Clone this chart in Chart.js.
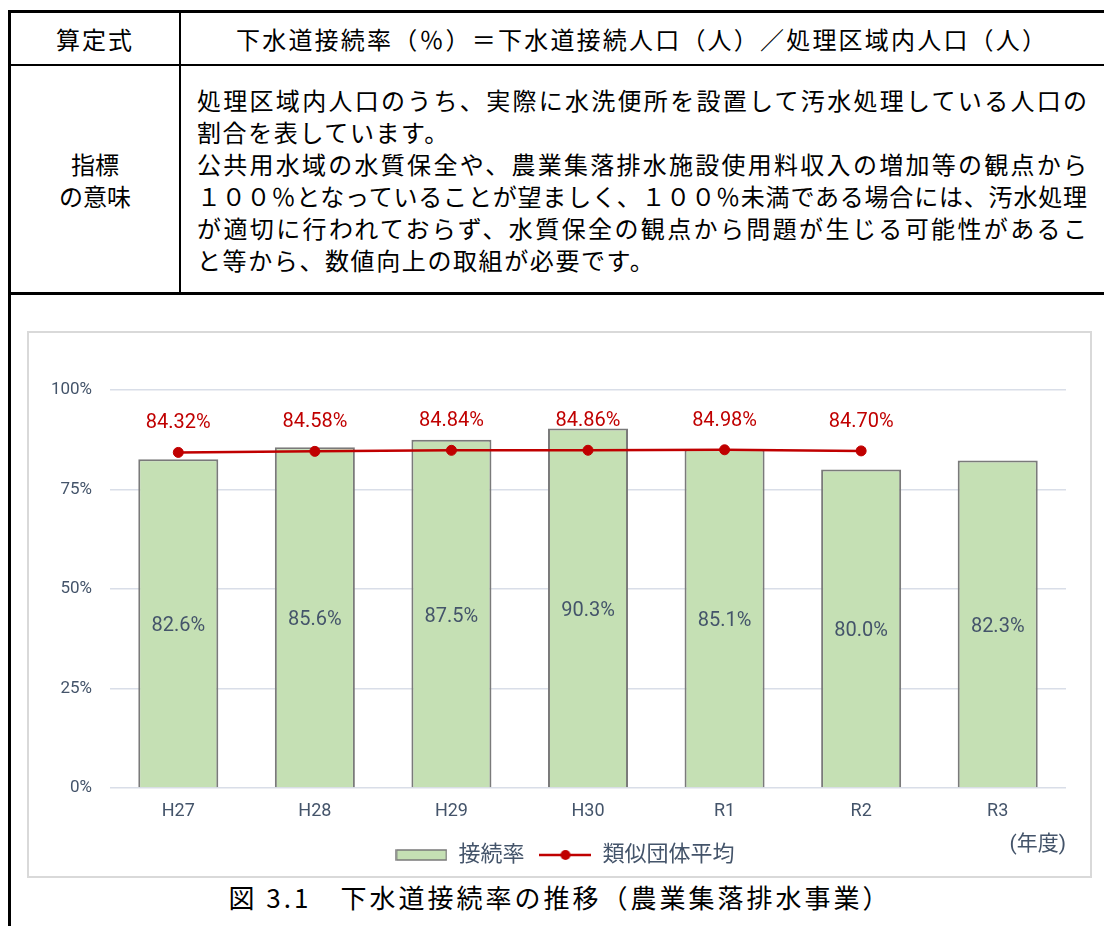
<!DOCTYPE html>
<html lang="ja">
<head>
<meta charset="utf-8">
<title>下水道接続率の推移（農業集落排水事業）</title>
<script src="https://cdn.jsdelivr.net/npm/chart.js@4/dist/chart.umd.min.js"></script>
<style>
  html, body { margin: 0; padding: 0; background: #fff; }
  body { width: 1104px; height: 926px; position: relative; overflow: hidden;
         font-family: "Noto Sans CJK JP", sans-serif; color: #000; }
  .hline { position: absolute; background: #000; }
  .vline { position: absolute; background: #000; }
  .cell { position: absolute; font-size: 24px; line-height: 32px; white-space: nowrap; }
  .mean div { height: 32px; }
  .mean .full { text-align: justify; text-align-last: justify; }
  #chart-box { position: absolute; left: 27px; top: 331px; width: 1065px; height: 547px;
               border: 2px solid #d9d9d9; box-sizing: border-box; }
  #chart-wrap { position: absolute; left: 29px; top: 333px; width: 1061px; height: 543px; }
  #caption { position: absolute; left: 10px; width: 1100px; top: 879px; text-align: center;
             font-size: 26px; line-height: 36px; letter-spacing: 3px; }
</style>
</head>
<body>
<!-- 表の罫線 -->
<div class="hline" style="left:8px; top:10px; width:1100px; height:3px;"></div>
<div class="vline" style="left:8px; top:10px; width:3px; height:920px;"></div>
<div class="hline" style="left:8px; top:64px; width:1100px; height:2px;"></div>
<div class="hline" style="left:8px; top:292px; width:1100px; height:3px;"></div>
<div class="vline" style="left:179px; top:10px; width:2px; height:284px;"></div>

<!-- 算定式 -->
<div class="cell" style="left:11px; width:168px; top:23px; text-align:center; letter-spacing:2px;">算定式</div>
<div class="cell" style="left:236px; top:23px; letter-spacing:2.2px;">下水道接続率（％）＝下水道接続人口（人）／処理区域内人口（人）</div>

<!-- 指標の意味 -->
<div class="cell" style="left:11px; width:168px; top:148px; text-align:center;">指標<br>の意味</div>
<div class="cell mean" style="left:197px; width:890px; top:84px;">
  <div class="full">処理区域内人口のうち、実際に水洗便所を設置して汚水処理している人口の</div>
  <div style="letter-spacing:1.6px;">割合を表しています。</div>
  <div class="full">公共用水域の水質保全や、農業集落排水施設使用料収入の増加等の観点から</div>
  <div class="full">１００％となっていることが望ましく、１００％未満である場合には、汚水処理</div>
  <div class="full">が適切に行われておらず、水質保全の観点から問題が生じる可能性があるこ</div>
  <div style="letter-spacing:1.6px;">と等から、数値向上の取組が必要です。</div>
</div>

<div id="chart-box"></div>
<div id="chart-wrap"><canvas id="chart"></canvas></div>
<div id="caption">図 3.1　下水道接続率の推移（農業集落排水事業）</div>

<script>
"use strict";

// ── データ ─────────────────────────────────────────
const years = ["H27", "H28", "H29", "H30", "R1", "R2", "R3"];
const connectRate = [82.6, 85.6, 87.5, 90.3, 85.1, 80.0, 82.3];   // 接続率
const similarAvg = [84.32, 84.58, 84.84, 84.86, 84.98, 84.70, null]; // 類似団体平均
const yTicks = [0, 25, 50, 75, 100];

const BAR_FILL = "#c5e0b4";
const BAR_EDGE = "#7a7a7a";
const LINE_RED = "#c00000";
const SLATE = "#44546a";
const LATIN = "Roboto, 'Noto Sans CJK JP', sans-serif";

// 凡例用の小さな図形（棒と折れ線＋マーカー）
function legendSwatch(kind) {
  const c = document.createElement("canvas");
  c.width = 52; c.height = 14;
  const g = c.getContext("2d");
  if (kind === "bar") {
    g.fillStyle = BAR_FILL;
    g.fillRect(1, 2, 50, 10);
    g.strokeStyle = BAR_EDGE;
    g.lineWidth = 1.5;
    g.strokeRect(1, 2, 50, 10);
  } else {
    g.strokeStyle = LINE_RED;
    g.lineWidth = 2.5;
    g.beginPath(); g.moveTo(0, 7); g.lineTo(52, 7); g.stroke();
    g.fillStyle = LINE_RED;
    g.beginPath(); g.arc(26, 7, 5, 0, Math.PI * 2); g.fill();
  }
  return c;
}

// 値ラベル（棒は中央、折れ線は点の上）
const valueLabels = {
  id: "valueLabels",
  afterDatasetsDraw(chart) {
    const ctx = chart.ctx;
    ctx.save();
    ctx.textAlign = "center";
    ctx.textBaseline = "middle";
    ctx.font = "20px " + LATIN;
    chart.data.datasets.forEach((ds, di) => {
      const meta = chart.getDatasetMeta(di);
      meta.data.forEach((el, i) => {
        const v = ds.data[i];
        if (v == null) return;
        if (ds.type === "bar") {
          ctx.fillStyle = SLATE;
          ctx.fillText(v.toFixed(1) + "%", el.x, (el.y + el.base) / 2 + 3);
        } else {
          ctx.fillStyle = LINE_RED;
          ctx.fillText(v.toFixed(2) + "%", el.x, el.y - 29);
        }
      });
    });
    ctx.restore();
  },
};

// 凡例を少し右へ（元図では凡例が中央よりやや右）
const legendShift = {
  id: "legendShift",
  afterLayout(chart) {
    if (chart.legend) chart.legend.left += 35;
  },
};

const swatches = { bar: legendSwatch("bar"), line: legendSwatch("line") };

new Chart(document.getElementById("chart"), {
  data: {
    labels: years,
    datasets: [
      {
        type: "bar",
        label: "接続率",
        data: connectRate,
        backgroundColor: BAR_FILL,
        borderColor: BAR_EDGE,
        borderWidth: 2,
        categoryPercentage: 1,
        barPercentage: 0.586,
        order: 1,
      },
      {
        type: "line",
        label: "類似団体平均",
        data: similarAvg,
        borderColor: LINE_RED,
        backgroundColor: LINE_RED,
        borderWidth: 2.5,
        pointRadius: 5,
        pointBorderWidth: 1,
        pointHoverRadius: 5,
        order: 0,
      },
    ],
  },
  options: {
    responsive: true,
    maintainAspectRatio: false,
    animation: false,
    layout: { padding: { left: 0, right: 24, top: 57, bottom: 0 } },
    plugins: {
      tooltip: { enabled: false },
      legend: {
        position: "bottom",
        labels: {
          usePointStyle: true,
          pointStyleWidth: 52,
          padding: 15,
          color: SLATE,
          font: { size: 22, family: LATIN },
          generateLabels: () => [
            { text: "接続率", pointStyle: swatches.bar, fontColor: SLATE, lineWidth: 0, hidden: false, datasetIndex: 0 },
            { text: "類似団体平均", pointStyle: swatches.line, fontColor: SLATE, lineWidth: 0, hidden: false, datasetIndex: 1 },
          ],
        },
      },
    },
    scales: {
      x: {
        grid: { display: false, drawTicks: false },
        border: { display: false },
        ticks: { color: SLATE, padding: 13, font: { size: 18, family: LATIN } },
        title: {
          display: true,
          text: "(年度)",
          align: "end",
          color: SLATE,
          font: { size: 21, family: LATIN },
          padding: { top: 0, bottom: -28.6 },
        },
        afterFit: (s) => { s.height = 41; },
      },
      y: {
        min: 0,
        max: 100,
        afterBuildTicks: (s) => { s.ticks = yTicks.map((v) => ({ value: v })); },
        grid: { color: "#d9dee8", lineWidth: 1.5, drawTicks: false },
        border: { display: false },
        ticks: {
          color: SLATE,
          padding: 18,
          font: { size: 17, family: LATIN },
          callback: (v) => v + "%",
        },
        afterFit: (s) => { s.width = 81; },
      },
    },
  },
  plugins: [valueLabels, legendShift],
});
</script>
</body>
</html>
